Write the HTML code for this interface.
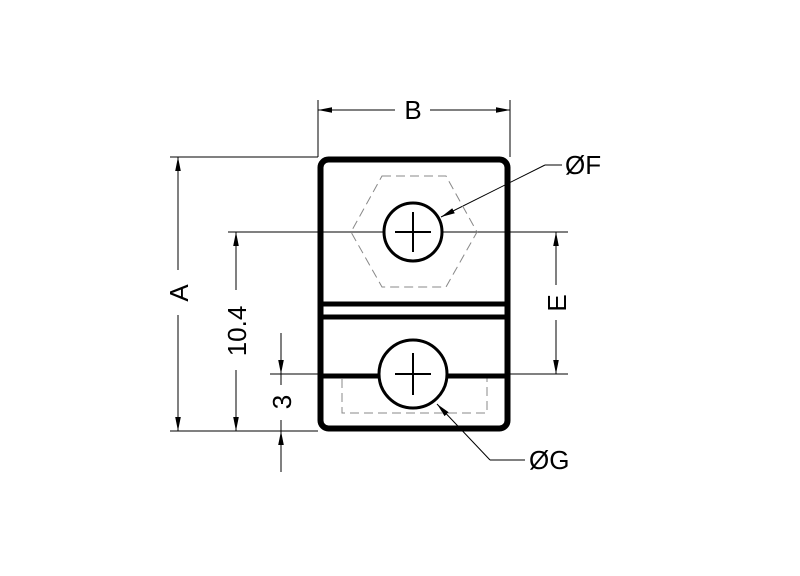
<!DOCTYPE html>
<html><head><style>body{margin:0;background:#fff}svg{display:block}</style></head><body>
<svg width="800" height="576" viewBox="0 0 800 576" xmlns="http://www.w3.org/2000/svg" font-family="Liberation Sans, sans-serif">
<defs><marker id="ar" markerWidth="14" markerHeight="8" refX="14" refY="4" orient="auto" markerUnits="userSpaceOnUse"><path d="M0,1.2 L14,4 L0,6.8z" fill="#000"/></marker></defs>
<g stroke="#000" stroke-width="1" fill="none">
<line x1="170" y1="157" x2="318" y2="157"/>
<line x1="170" y1="431" x2="318" y2="431"/>
<line x1="228" y1="232" x2="568" y2="232"/>
<line x1="270" y1="374" x2="568" y2="374"/>
<line x1="318" y1="100" x2="318" y2="157"/>
<line x1="510" y1="100" x2="510" y2="157"/>
<line x1="178" y1="270" x2="178" y2="157" marker-end="url(#ar)"/>
<line x1="178" y1="315" x2="178" y2="431" marker-end="url(#ar)"/>
<line x1="236" y1="290" x2="236" y2="232" marker-end="url(#ar)"/>
<line x1="236" y1="370" x2="236" y2="431" marker-end="url(#ar)"/>
<line x1="281" y1="333" x2="281" y2="374" marker-end="url(#ar)"/>
<line x1="281" y1="472" x2="281" y2="431" marker-end="url(#ar)"/>
<line x1="281" y1="374" x2="281" y2="385"/>
<line x1="281" y1="420" x2="281" y2="431"/>
<line x1="395" y1="110" x2="318" y2="110" marker-end="url(#ar)"/>
<line x1="430" y1="110" x2="510" y2="110" marker-end="url(#ar)"/>
<line x1="556" y1="285" x2="556" y2="232" marker-end="url(#ar)"/>
<line x1="556" y1="320" x2="556" y2="374" marker-end="url(#ar)"/>
<line x1="562" y1="165" x2="545" y2="165"/>
<line x1="545" y1="165" x2="441" y2="217" marker-end="url(#ar)"/>
<line x1="525" y1="460" x2="490" y2="460"/>
<line x1="490" y1="460" x2="437" y2="404" marker-end="url(#ar)"/>
</g>
<g stroke="#888" stroke-width="1" fill="none" stroke-dasharray="9,5">
<path d="M382,176 L446,176 L477,232 L446,287 L382,287 L351,232 Z"/>
<rect x="342" y="378" width="145" height="35"/>
</g>
<g stroke="#000" fill="none">
<rect x="320.5" y="159.5" width="187" height="269" rx="8" stroke-width="6"/>
<line x1="320" y1="304" x2="508" y2="304" stroke-width="5"/>
<line x1="320" y1="317" x2="508" y2="317" stroke-width="5"/>
<line x1="320" y1="376" x2="380" y2="376" stroke-width="5"/>
<line x1="447" y1="376" x2="508" y2="376" stroke-width="5"/>
<circle cx="413" cy="232" r="29" stroke-width="3" fill="#fff"/>
<circle cx="413" cy="374" r="34" stroke-width="3" fill="#fff"/>
<g stroke-width="2"><line x1="395" y1="232" x2="431" y2="232"/><line x1="413" y1="212" x2="413" y2="252"/>
<line x1="395" y1="374" x2="431" y2="374"/><line x1="413" y1="353" x2="413" y2="395"/></g>
</g>
<g font-size="26" fill="#000">
<text x="413" y="119" text-anchor="middle">B</text>
<text x="565" y="174">ØF</text>
<text x="529" y="469">ØG</text>
<text transform="translate(188,293) rotate(-90)" text-anchor="middle">A</text>
<text transform="translate(246,331) rotate(-90)" text-anchor="middle">10.4</text>
<text transform="translate(291,402) rotate(-90)" text-anchor="middle">3</text>
<text transform="translate(566,303) rotate(-90)" text-anchor="middle">E</text>
</g>
</svg>
</body></html>
